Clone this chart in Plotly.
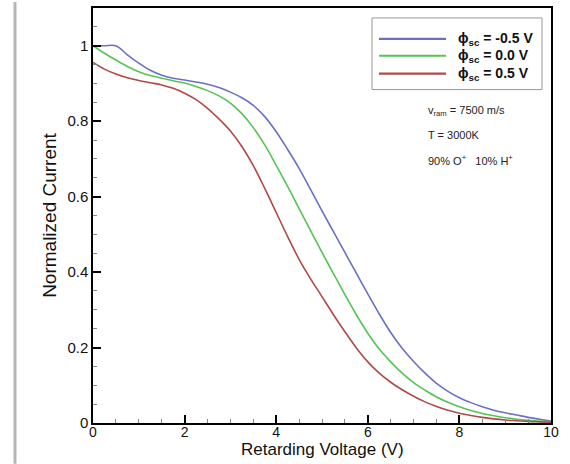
import plotly.graph_objects as go

voltage = [0, 0.25, 0.5, 0.75, 1.0, 1.25, 1.5, 1.75, 2.0, 2.25, 2.5, 2.75, 3.0, 3.25, 3.5, 3.75,
           4.0, 4.25, 4.5, 4.75, 5.0, 5.25, 5.5, 5.75, 6.0, 6.25, 6.5, 6.75, 7.0, 7.25, 7.5, 7.75,
           8.0, 8.25, 8.5, 8.75, 9.0, 9.25, 9.5, 9.75, 10.0]
current_neg05 = [1.0, 1.0, 1.0, 0.976, 0.954, 0.935, 0.922, 0.914, 0.909, 0.904, 0.898, 0.889, 0.877, 0.862,
                 0.842, 0.812, 0.772, 0.725, 0.675, 0.619, 0.562, 0.507, 0.452, 0.397, 0.342, 0.289, 0.240,
                 0.198, 0.163, 0.132, 0.105, 0.084, 0.067, 0.054, 0.043, 0.034, 0.027, 0.021, 0.015, 0.010, 0.005]
current_00 = [1.0, 0.98, 0.962, 0.945, 0.931, 0.921, 0.914, 0.907, 0.901, 0.892, 0.881, 0.867, 0.848, 0.82,
              0.783, 0.737, 0.683, 0.627, 0.568, 0.51, 0.452, 0.396, 0.34, 0.287, 0.238, 0.196, 0.162,
              0.132, 0.107, 0.087, 0.069, 0.055, 0.043, 0.033, 0.025, 0.019, 0.014, 0.010, 0.007, 0.005, 0.003]
current_05 = [0.956, 0.938, 0.925, 0.915, 0.908, 0.902, 0.896, 0.887, 0.874, 0.857, 0.834, 0.806, 0.774, 0.733,
              0.682, 0.622, 0.558, 0.494, 0.434, 0.382, 0.335, 0.287, 0.242, 0.199, 0.162, 0.132, 0.108,
              0.088, 0.071, 0.056, 0.044, 0.034, 0.026, 0.020, 0.015, 0.011, 0.008, 0.006, 0.004, 0.003, 0.002]

series_names = ["ϕ<sub>sc</sub> = -0.5 V", "ϕ<sub>sc</sub> = 0.0 V", "ϕ<sub>sc</sub> = 0.5 V"]
series_colors = ["#6b70c6", "#55c455", "#b04a48"]
x_ticks = [0, 2, 4, 6, 8, 10]
y_ticks = [0, 0.2, 0.4, 0.6, 0.8, 1]
y_ticklabels = ["0", "0.2", "0.4", "0.6", "0.8", "1"]
ann_texts = ["v<sub>ram</sub> = 7500 m/s", "T = 3000K", "90% O<sup>+</sup>   10% H<sup>+</sup>"]
x_title = "Retarding Voltage (V)"
y_title = "Normalized Current"

FONT = "Liberation Sans, Arial, Helvetica"
W, H = 570, 464
ml, mr, mt, mb = 93, 19, 6, 41
pw, ph = W - ml - mr, H - mt - mb

def px_x(p):
    return (p - ml) / pw

def px_y(p):
    return 1 - (p - mt) / ph

fig = go.Figure()
for name, ys, col in zip(series_names, [current_neg05, current_00, current_05], series_colors):
    fig.add_trace(go.Scatter(x=voltage, y=ys, mode="lines", name=name, showlegend=False,
                             line=dict(color=col, width=1.6, shape="spline", smoothing=1.0)))

axis_common = dict(showline=True, linecolor="black", linewidth=1.5, mirror=True,
                   ticks="inside", ticklen=8, tickwidth=1.5, tickcolor="black",
                   showgrid=False, zeroline=False)

fig.update_layout(
    width=W, height=H,
    margin=dict(l=ml, r=mr, t=mt, b=mb),
    paper_bgcolor="white", plot_bgcolor="white",
    font=dict(family=FONT, color="#111"),
    xaxis=dict(range=[0, 10], tickvals=x_ticks, ticktext=[str(v) for v in x_ticks],
               ticklabelstandoff=-5, tickfont=dict(family=FONT, size=14, color="#111"),
               minor=dict(dtick=0.5, ticks="inside", ticklen=4, tickcolor="#888", tickwidth=1),
               **axis_common),
    yaxis=dict(range=[0, 1.1], tickvals=y_ticks, ticktext=y_ticklabels,
               tickfont=dict(family=FONT, size=15, color="#111"),
               title=dict(text=y_title, font=dict(size=19), standoff=6),
               minor=dict(dtick=0.05, ticks="inside", ticklen=4, tickcolor="#888", tickwidth=1),
               **axis_common),
)

# x axis title placed as annotation for precise placement
fig.add_annotation(text=x_title, xref="paper", yref="paper", x=0.5, y=px_y(450),
                   xanchor="center", yanchor="middle", showarrow=False,
                   font=dict(family=FONT, size=17, color="#111"))

# legend box drawn by hand (long sample lines as in the reference)
fig.add_shape(type="rect", xref="paper", yref="paper",
              x0=px_x(372), x1=px_x(542), y0=px_y(88), y1=px_y(16),
              line=dict(color="#999", width=1), fillcolor="white", layer="above")
legend_rows = [37, 54, 72]
for name, col, yp in zip(series_names, series_colors, legend_rows):
    fig.add_shape(type="line", xref="paper", yref="paper",
                  x0=px_x(379), x1=px_x(446), y0=px_y(yp), y1=px_y(yp),
                  line=dict(color=col, width=2.2), layer="above")
    fig.add_annotation(text="<b>" + name + "</b>", xref="paper", yref="paper",
                       x=px_x(456), y=px_y(yp), xanchor="left", yanchor="middle",
                       showarrow=False, font=dict(family=FONT, size=14, color="#111"))

ann_ys = [109, 134, 159]
for t, yp in zip(ann_texts, ann_ys):
    fig.add_annotation(text=t, xref="paper", yref="paper", x=px_x(426), y=px_y(yp),
                       xanchor="left", yanchor="middle", showarrow=False,
                       font=dict(family=FONT, size=11, color="#222"))

# gray page border line on the left
fig.add_shape(type="line", xref="paper", yref="paper",
              x0=px_x(15), x1=px_x(15), y0=-mb / ph, y1=1 + mt / ph,
              line=dict(color="#b5b5b5", width=3))

fig.write_html("out.html")
